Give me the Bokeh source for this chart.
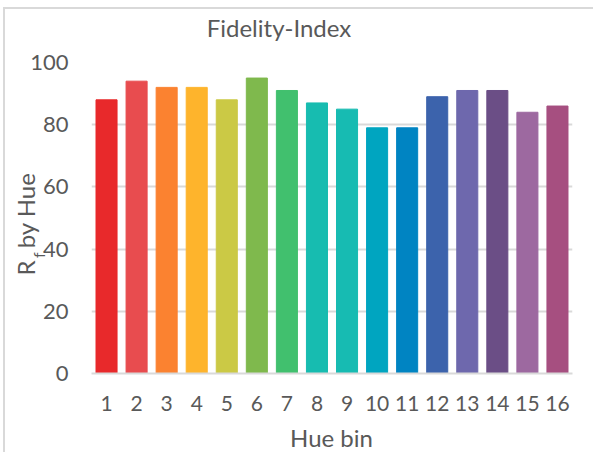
import math
from bokeh.plotting import figure
from bokeh.models import ColumnDataSource, FactorRange, Range1d, FixedTicker, Label
from bokeh.embed import file_html
from bokeh.resources import INLINE

# ---- data ----
hue_bins = [str(i) for i in range(1, 17)]
rf_values = [88, 94, 92, 92, 88, 95, 91, 87, 85, 79, 79, 89, 91, 91, 84, 86]
bar_colors = ["#E8292B", "#E84C4F", "#FB8230", "#FEB42C", "#CBC945", "#7FB94D",
              "#41C06E", "#17BCB0", "#17BBB2", "#00A5C0", "#0084C2", "#3C63AC",
              "#6E68AD", "#6B4E86", "#9D69A0", "#A64F80"]
y_ticks = [0, 20, 40, 60, 80, 100]
title_text = "Fidelity-Index"
x_label = "Hue bin"
y_label = "R\u2002by Hue\u2002"   # subscript "f" added separately
y_label_sub = "f"

FONT = "Lato"
TXT = "#595959"
GRID = "#D9D9D9"

src = ColumnDataSource(dict(bin=hue_bins, rf=rf_values, color=bar_colors))

p = figure(width=593, height=452, title=None,
           x_range=FactorRange(factors=hue_bins, range_padding=0),
           y_range=Range1d(0, 100),
           output_backend="svg", toolbar_location=None,
           min_border_left=91, min_border_right=21,
           min_border_top=62, min_border_bottom=79)
p.outline_line_color = None
p.background_fill_color = None
p.border_fill_color = None
p.styles = {"background-color": "white",
            "box-shadow": "inset 3px 7px 0 0 white, inset 5px 9px 0 0 #D9D9D9"}

p.vbar(x="bin", top="rf", width=0.7, color="color", source=src)

p.xgrid.visible = False
p.ygrid.ticker = FixedTicker(ticks=y_ticks)
p.ygrid.grid_line_color = GRID
p.ygrid.grid_line_width = 2

p.yaxis.ticker = FixedTicker(ticks=y_ticks)
p.yaxis.axis_line_color = None
p.yaxis.major_tick_line_color = None
p.yaxis.minor_tick_line_color = None
p.yaxis.major_tick_out = 0
p.yaxis.major_tick_in = 0
p.yaxis.minor_tick_out = 0
p.yaxis.major_label_standoff = 23
p.yaxis.major_label_text_font = FONT
p.yaxis.major_label_text_font_size = "22px"
p.yaxis.major_label_text_color = TXT
p.yaxis.axis_label = y_label
p.yaxis.axis_label_standoff = -13
p.yaxis.axis_label_text_font = FONT
p.yaxis.axis_label_text_font_size = "24px"
p.yaxis.axis_label_text_font_style = "normal"
p.yaxis.axis_label_text_color = TXT

p.xaxis.axis_line_color = GRID
p.xaxis.axis_line_width = 2
p.xaxis.major_tick_line_color = None
p.xaxis.major_tick_out = 0
p.xaxis.major_tick_in = 0
p.xaxis.major_label_standoff = 22
p.xaxis.major_label_text_font = FONT
p.xaxis.major_label_text_font_size = "21px"
p.xaxis.major_label_text_color = TXT

def panel_label(text, x, y, size, angle=0.0, align="left"):
    return Label(text=text, x=x, y=y, x_units="screen", y_units="screen",
                 angle=angle, text_align=align, text_baseline="alphabetic",
                 text_font=FONT, text_font_size=size, text_color=TXT)

# title (top panel), x-axis title (bottom panel), subscript f of the y title (right panel)
p.add_layout(panel_label(title_text, 187.5, 35, "24px", align="center"), "above")
p.add_layout(panel_label(x_label, 240, 5.4, "24px", align="center"), "below")
p.add_layout(panel_label(y_label_sub, -534.4, 115.4, "16px", angle=math.pi / 2), "right")

open("out.html", "w").write(file_html(p, INLINE))
